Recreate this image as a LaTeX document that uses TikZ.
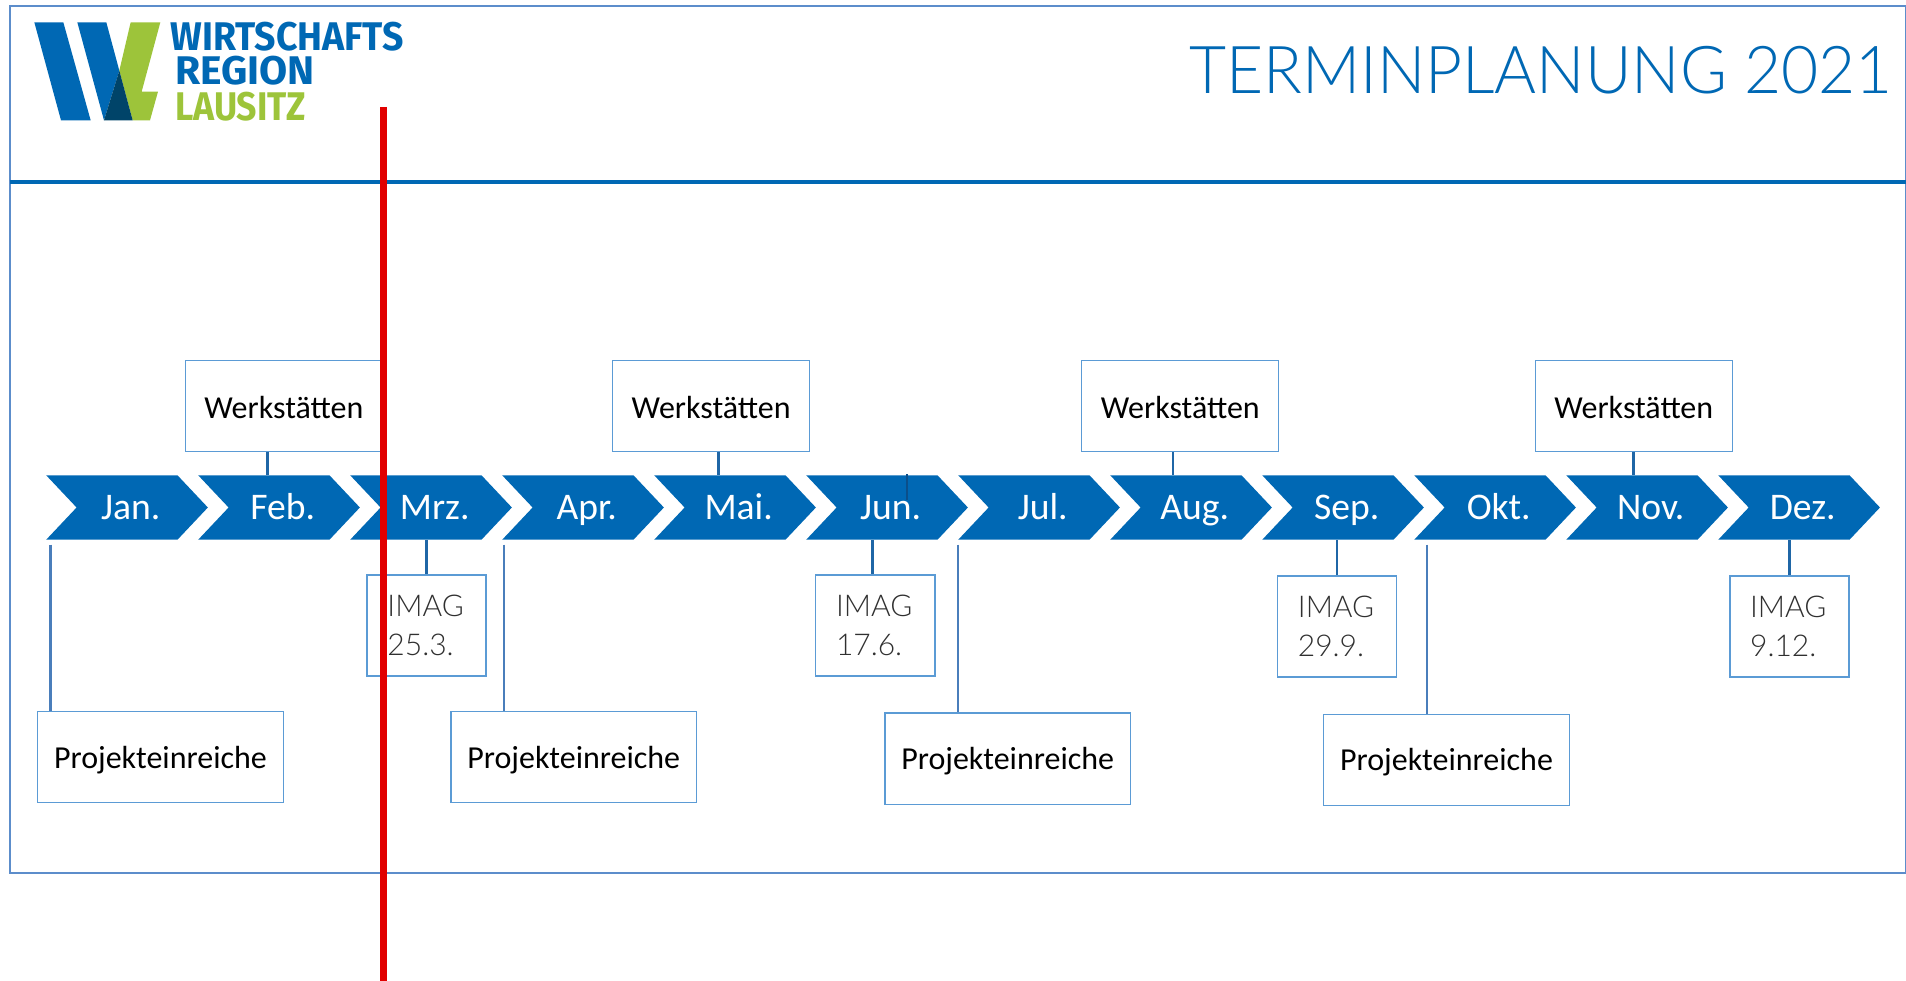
\documentclass[tikz,border=0pt]{standalone}
\usepackage{fontspec}
\setmainfont{Carlito}
\newfontfamily\logofont{Fira Sans}
\newfontfamily\lightfont{Lato Light}
\definecolor{wblue}{HTML}{0068B4}
\definecolor{wgreen}{HTML}{9DC43A}
\definecolor{wdark}{HTML}{004469}
\definecolor{boxline}{HTML}{5B9BD5}
\definecolor{frameline}{HTML}{5C8DCB}
\definecolor{conna}{HTML}{1F66A6}
\definecolor{connb}{HTML}{4A7EBB}
\definecolor{tick}{HTML}{0B4F8A}
\definecolor{wred}{HTML}{E10000}
\definecolor{imagtext}{HTML}{303030}
\def\un{0.60778pt}
\tikzset{
  box/.style={draw=boxline,line width=0.6pt,fill=white,inner sep=0pt,text=black},
  werk/.style={box,minimum width=162*\un,minimum height=75.5*\un,font=\fontsize{16pt}{19pt}\selectfont,text height=12pt,text depth=0pt},
  proj/.style={box,minimum width=202*\un,minimum height=75*\un,font=\fontsize{16pt}{19pt}\selectfont,text height=11pt,text depth=0pt},
  imag/.style={box,line width=0.8pt,minimum width=98*\un,minimum height=83*\un,align=left,text width=64.5*\un,text=imagtext,font=\lightfont\fontsize{15pt}{19.3pt}\selectfont},
  month/.style={minimum width=133*\un,minimum height=53*\un,inner sep=0pt,text=white,font=\fontsize{18.8pt}{20pt}\selectfont,text height=11.5pt,text depth=0pt},
  conup/.style={draw=conna,line width=1.3pt},
  condown/.style={draw=connb,line width=1.2pt},
  logotext/.style={anchor=west,inner sep=0pt,font=\logofont\bfseries\fontsize{20pt}{20pt}\selectfont}
}
\begin{document}
\begin{tikzpicture}[x=\un,y=-\un]
\useasboundingbox (0,0) rectangle (1568,807);
\fill[white] (0,0) rectangle (1568,807);
% frame and header rule
\draw[frameline,line width=0.8pt] (8,5) rectangle (1567.5,718);
\draw[wblue,line width=2.1pt] (8,150) -- (1568,150);
% logo
\begin{scope}[x=\un/3.647,y=-\un/3.647]
\fill[wblue] (103,67) -- (190,67) -- (272,361) -- (183,361) -- cycle;
\fill[wblue] (232,67) -- (319,67) -- (358,212) -- (312,361) -- cycle;
\fill[wgreen] (392,67) -- (481,67) -- (425,275) -- (474,275) -- (450,361) -- (398,361) -- (358,212) -- cycle;
\fill[wdark] (358,212) -- (398,361) -- (312,361) -- cycle;
\node[logotext,text=wblue] (l1) at (510,109) {\scalebox{0.935}[1]{WIRTSCHAFTS}};
\node[logotext,text=wblue] (l2) at (524,213) {\scalebox{1.02}[1]{REGION}};
\node[logotext,text=wgreen] (l3) at (524,320) {\scalebox{0.89}[1]{LAUSITZ}};
\end{scope}
% title
\node[anchor=base west,inner sep=0pt,text=wblue,font=\lightfont\fontsize{33pt}{34pt}\selectfont] (title) at (978,77) {\scalebox{0.97}[1]{TERMINPLANUNG 2021}};
% months
\foreach \n/\t [count=\i from 0] in {jan/Jan.,feb/Feb.,mrz/Mrz.,apr/Apr.,mai/Mai.,jun/Jun.,jul/Jul.,aug/Aug.,sep/Sep.,okt/Okt.,nov/Nov.,dez/Dez.}{
  \pgfmathsetmacro\xa{38+125.05*\i}
  \fill[wblue] (\xa,391) -- ({\xa+108},391) -- ({\xa+133},417.5) -- ({\xa+108},444) -- (\xa,444) -- ({\xa+25},417.5) -- cycle;
  \node[month] (\n) at ({\xa+69.5},417.5) {\t};
}
% Werkstaetten
\node[werk] (w1) at (233.5,334) {Werkst\"atten};
\node[werk] (w2) at (585,334) {Werkst\"atten};
\node[werk] (w3) at (971,334) {Werkst\"atten};
\node[werk] (w4) at (1344,334) {Werkst\"atten};
\draw[conup] (w1.south -| 220,0) -- (feb.north -| 220,0);
\draw[conup] (w2.south -| 591,0) -- (mai.north -| 591,0);
\draw[conup] (w3.south -| 965,0) -- (aug.north -| 965,0);
\draw[conup] (w4.south -| 1344,0) -- (nov.north -| 1344,0);
% IMAG
\node[imag] (i1) at (351,514.5) {IMAG\\25.3.};
\node[imag] (i2) at (720,514.5) {IMAG\\17.6.};
\node[imag] (i3) at (1100,515.5) {IMAG\\29.9.};
\node[imag] (i4) at (1472,515.5) {IMAG\\9.12.};
\draw[conup] (mrz.south -| 351,0) -- (i1.north -| 351,0);
\draw[conup] (jun.south -| 718,0) -- (i2.north -| 718,0);
\draw[conup] (sep.south -| 1100,0) -- (i3.north -| 1100,0);
\draw[conup] (dez.south -| 1472,0) -- (i4.north -| 1472,0);
% Projekteinreiche
\node[proj] (p1) at (132,623) {Projekteinreiche};
\node[proj] (p2) at (472,623) {Projekteinreiche};
\node[proj] (p3) at (829,624) {Projekteinreiche};
\node[proj] (p4) at (1190,625) {Projekteinreiche};
\coordinate (s1) at (41.5,448);
\coordinate (s2) at (414.5,448);
\coordinate (s3) at (788,448);
\coordinate (s4) at (1174,448);
\draw[condown] (s1) -- (p1.north -| s1);
\draw[condown] (s2) -- (p2.north -| s2);
\draw[condown] (s3) -- (p3.north -| s3);
\draw[condown] (s4) -- (p4.north -| s4);
% stray tick in Jun.
\coordinate (t1) at (746,390);
\coordinate (t2) at (746,411);
\draw[tick,line width=0.9pt] (t1) -- (t2);
% red vertical
\coordinate (r1) at (315.5,88);
\coordinate (r2) at (315.5,807);
\draw[wred,line width=3.2pt] (r1) -- (r2);
\end{tikzpicture}
\end{document}
